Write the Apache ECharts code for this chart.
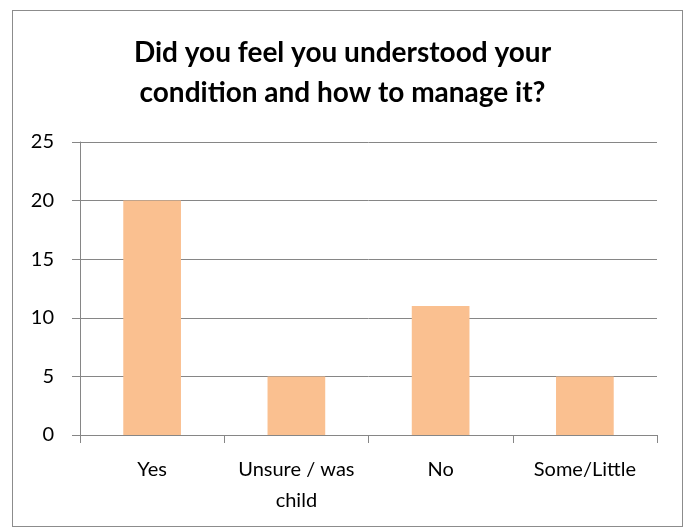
<!DOCTYPE html>
<html>
<head>
<meta charset="utf-8">
<script src="https://cdn.jsdelivr.net/npm/echarts@6/dist/echarts.min.js"></script>
<style>
  html, body { margin: 0; padding: 0; background: #fff; }
  #frame { position: absolute; left: 12px; top: 10px; width: 671px; height: 517px; border: 1px solid #8c8c8c; box-sizing: border-box; }
  #chart { position: absolute; left: 0; top: 0; width: 685px; height: 529px; }
</style>
</head>
<body>
<div id="frame"></div>
<div id="chart"></div>
<script>
var categories = ['Yes', 'Unsure / was\nchild', 'No', 'Some/Little'];
var counts = [20, 5, 11, 5];
var titleText = 'Did you feel you understood your\ncondition and how to manage it?';

var myChart = echarts.init(document.getElementById('chart'));

var option = {
    animation: false,
    title: {
        text: titleText,
        left: 'center',
        top: 28,
        textStyle: {
            fontFamily: 'Lato',
            fontWeight: 'bold',
            fontSize: 28,
            lineHeight: 40,
            color: '#000'
        }
    },
    grid: {
        left: 80,
        right: 28,
        top: 142,
        bottom: 94
    },
    xAxis: {
        type: 'category',
        data: categories,
        axisLine: { lineStyle: { color: '#868686', width: 1 } },
        axisTick: { show: true, length: 8, alignWithLabel: false, lineStyle: { color: '#868686' } },
        axisLabel: {
            color: '#000',
            fontFamily: 'Lato',
            fontSize: 20,
            lineHeight: 31,
            margin: 19,
            interval: 0
        }
    },
    yAxis: {
        type: 'value',
        min: 0,
        max: 25,
        interval: 5,
        axisLine: { show: true, lineStyle: { color: '#868686', width: 1 } },
        axisTick: { show: true, length: 8, lineStyle: { color: '#868686' } },
        axisLabel: {
            color: '#000',
            fontFamily: 'Lato',
            fontSize: 20,
            margin: 26
        },
        splitLine: { lineStyle: { color: '#868686', width: 1 } }
    },
    series: [{
        type: 'bar',
        data: counts,
        barWidth: '40%',
        itemStyle: { color: '#FAC090' }
    }]
};

myChart.setOption(option);
window.addEventListener('resize', function () {
    myChart.resize();
});
</script>
</body>
</html>
